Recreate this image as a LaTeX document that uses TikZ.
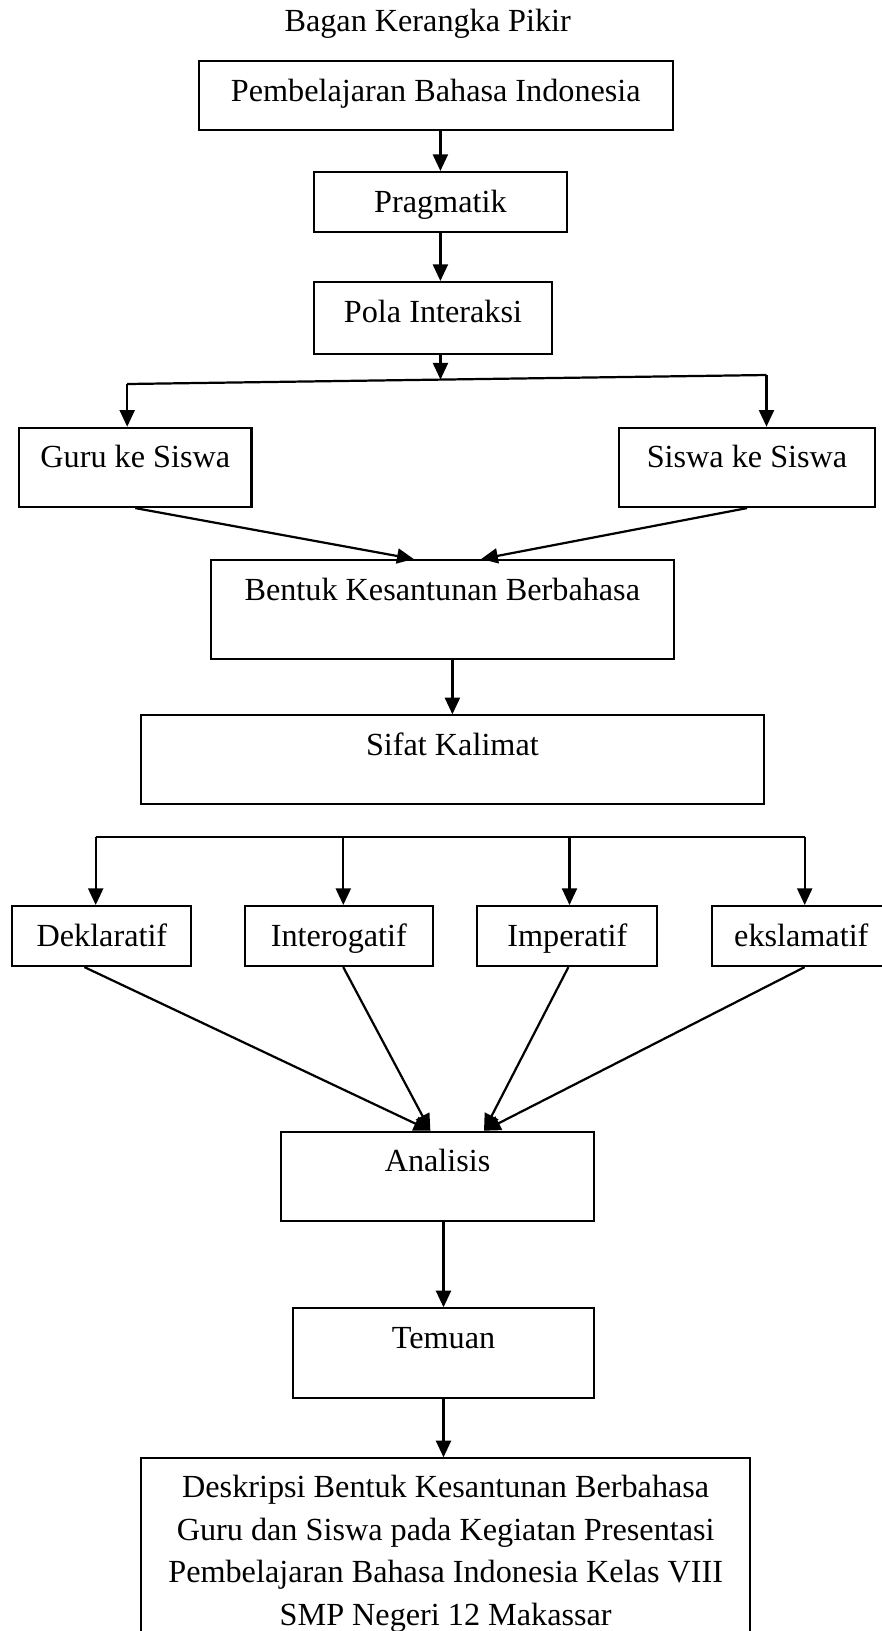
\documentclass[tikz,border=0pt]{standalone}
\usepackage{fontspec}
\setmainfont{Liberation Serif}
\usetikzlibrary{calc,arrows.meta}

\begin{document}
\begin{tikzpicture}[x=0.36pt,y=-0.36pt,
	every node/.style={font=\fontsize{11.6}{15.4}\selectfont},
	box/.style={draw, line width=.75pt, anchor=north, inner xsep=0pt, inner ysep=0pt, text height=14.4pt},
	arr/.style={line width=.8pt, -{Triangle[length=6pt,width=5.4pt]}}]
	\useasboundingbox (0,0) rectangle (882,1631);
	%title
	\node[anchor=base] (title) at (427.7,31.7) {Bagan Kerangka Pikir};
	%%boxes of the upper column placed by hand
	\node[box, minimum width=474.4*0.36pt, text depth=10.44pt] (pbi) at (435.8,60.3) {Pembelajaran Bahasa Indonesia};
	\node[box, minimum width=252.7*0.36pt, text depth=7.09pt] (prag) at (440.4,171) {Pragmatik};
	\node[box, minimum width=238*0.36pt, text depth=11.63pt] (pola) at (433,281) {Pola Interaksi\hspace{7.5pt}};
	\node[box, minimum width=232.4*0.36pt, text depth=14.15pt] (guru) at (135.3,426.7) {Guru ke Siswa};
	\node[box, minimum width=256*0.36pt, text depth=14.15pt] (siswa) at (747,426.7) {Siswa ke Siswa};
	\node[box, minimum width=462.6*0.36pt, text depth=21.13pt] (bentuk) at (442.3,559) {Bentuk Kesantunan Berbahasa};
	\node[box, minimum width=622.4*0.36pt, text depth=17.42pt] (sifat) at (452.4,714.3) {Sifat Kalimat};
	\node[box, minimum width=312.3*0.36pt, text depth=17.75pt] (ana) at (437.6,1130.7) {Analisis};
	\node[box, minimum width=300.5*0.36pt, text depth=17.78pt] (tem) at (443.5,1307.3) {Temuan};
	\node[draw, line width=.75pt, anchor=north, align=center, inner ysep=6pt, minimum width=608.9*0.36pt] (desk) at (445.7,1457.3)
		{Deskripsi Bentuk Kesantunan Berbahasa\\ Guru dan Siswa pada Kegiatan Presentasi\\ Pembelajaran Bahasa Indonesia Kelas VIII\\ SMP Negeri 12 Makassar};
	%% upper arrows
	\draw[arr] (pbi.south -| prag.north) -- (prag.north);
	\draw[arr] (prag.south) -- (pola.north -| prag.south);
	\coordinate (gl) at (127.2,384); \coordinate (gr) at (766.5,375);
	\coordinate (split) at ($(gl)!.49!(gr)$);
	\draw[line width=.8pt] (gl) -- (gr);
	\draw[arr] (pola.south -| split) -- (split);
	\draw[arr] (gl) -- (guru.north -| gl);
	\draw[arr] (gr) -- (siswa.north -| gr);
	\draw[arr] (guru.south) -- ([xshift=-10.3pt]bentuk.north);
	\draw[arr] (siswa.south) -- ([xshift=14pt]bentuk.north);
	\draw[arr] (sifat.north |- bentuk.south) -- (sifat.north);
	%% sentence types drawn with a loop
	\foreach \name/\cx/\w/\ax/\sx/\tx/\txt in {dek/101.9/178.9/95.7/-6.3/-2.6/Deklaratif, int/338.8/187.9/343.3/1.6/-2.6/Interogatif, imp/567.3/180.1/569.5/0.4/16.7/Imperatif, eks/801.3/178.8/804.7/1.2/16.7/ekslamatif}{
		\node[box, minimum width=\w*0.36pt, text depth=7.2pt] (\name) at (\cx,905) {\txt};
		\coordinate (\name-t) at (\ax,836.7);
		\draw[arr] (\name-t) -- (\name.north -| \name-t);
		\draw[arr] ([xshift=\sx pt]\name.south) -- ([xshift=\tx pt]ana.north);
		}
	\draw[line width=.8pt] (dek-t) -- (eks-t);
	%% lower arrows
	\draw[arr] (ana.south -| tem.north) -- (tem.north);
	\draw[arr] (tem.south) -- (tem.south |- desk.north);
\end{tikzpicture}
\end{document}
